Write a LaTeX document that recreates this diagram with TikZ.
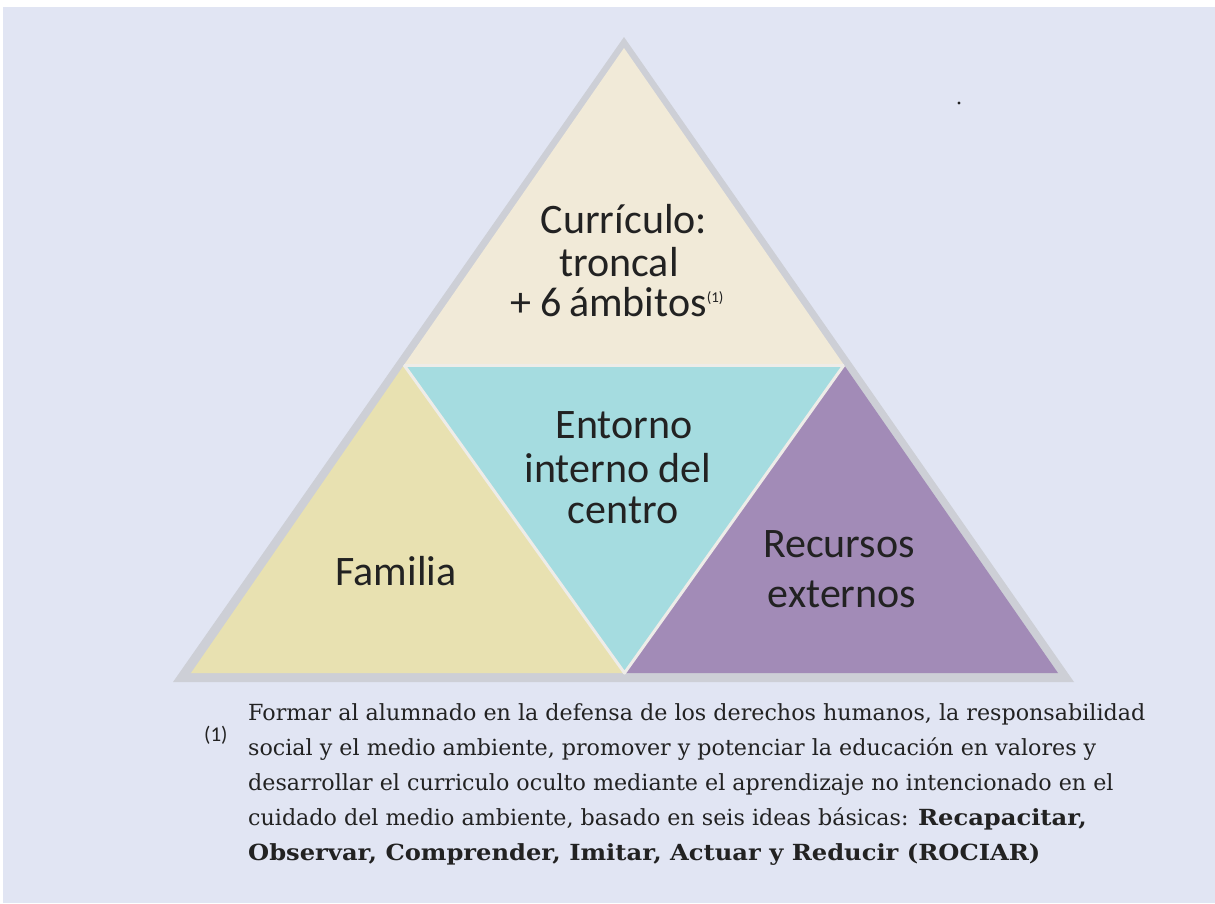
\documentclass[tikz,border=0pt]{standalone}
\usepackage{fontspec}
\newfontfamily\labfont{Carlito}
\newfontfamily\footfont{DejaVu Serif}
\definecolor{bgcol}{HTML}{E1E5F3}
\definecolor{rimcol}{HTML}{CDCFD6}
\definecolor{creamcol}{HTML}{F1EAD8}
\definecolor{yellowcol}{HTML}{E8E1B1}
\definecolor{tealcol}{HTML}{A5DCE0}
\definecolor{purplecol}{HTML}{A28BB7}
\definecolor{gapcol}{HTML}{EEECE8}
\definecolor{inkcol}{HTML}{222222}
\newcommand{\wbold}[1]{\scalebox{1.09}[1]{\textbf{#1}}}
\tikzset{
  lab/.style={font=\labfont\fontsize{42}{44}\selectfont, text=inkcol, inner sep=0pt, anchor=base},
  foot/.style={font=\footfont\fontsize{22.2}{26}\selectfont, text=inkcol, inner sep=0pt, anchor=base west},
  sep/.style={draw=gapcol, line width=3pt, line join=round}
}
\begin{document}
\begin{tikzpicture}[x=1pt,y=-1pt]
\useasboundingbox (0,0) rectangle (1215,903);
\fill[white] (0,0) rectangle (1215,903);
\fill[bgcol] (3,7) rectangle (1215,903);
% outer rim
\fill[rimcol] (624,37) -- (173,682) -- (1074,682) -- cycle;
% corner coordinates
\coordinate (apex) at (624,48);
\coordinate (bl) at (191,673);
\coordinate (br) at (1058,673);
\coordinate (ml) at (404,365);
\coordinate (mr) at (844,365);
\coordinate (mb) at (624.5,673);
% pieces
\fill[creamcol] (apex) -- (ml) -- (mr) -- cycle;
\fill[yellowcol] (ml) -- (bl) -- (mb) -- cycle;
\fill[tealcol] (ml) -- (mr) -- (mb) -- cycle;
\fill[purplecol] (mr) -- (mb) -- (br) -- cycle;
\draw[sep] (ml) -- (mr);
\draw[sep] (ml) -- (mb) -- (mr);
% labels
\node[lab] (c1) at (624,233) {Currículo:};
\node[lab] (c2) at (619,276) {troncal};
\node[lab] (c3) at (617,316) {+ 6\,ámbitos\raisebox{14pt}{\fontsize{15}{16}\selectfont(1)}};
\node[lab] (e1) at (624,438) {Entorno};
\node[lab] (e2) at (618,482) {interno del};
\node[lab] (e3) at (623,523) {centro};
\node[lab] (fam) at (396,585) {Familia};
\node[lab] (r1) at (839,557) {Recursos};
\node[lab] (r2) at (842,607) {externos};
% stray dot
\fill[inkcol] (959,103) circle (1.6);
% footnote
\node[font=\labfont\fontsize{21}{22}\selectfont, text=inkcol, inner sep=0pt, anchor=base west] (fn) at (204,741) {(1)};
\node[foot] (f1) at (248,720) {Formar al alumnado en la defensa de los derechos humanos, la responsabilidad};
\node[foot] (f2) at (248,755) {social y el medio ambiente, promover y potenciar la educación en valores y};
\node[foot] (f3) at (248,790) {desarrollar el curriculo oculto mediante el aprendizaje no intencionado en el};
\node[foot] (f4) at (248,825) {cuidado del medio ambiente, basado en seis ideas básicas: \wbold{Recapacitar,}};
\node[foot] (f5) at (248,860) {\wbold{Observar, Comprender, Imitar, Actuar y Reducir (ROCIAR)}};
\end{tikzpicture}
\end{document}
